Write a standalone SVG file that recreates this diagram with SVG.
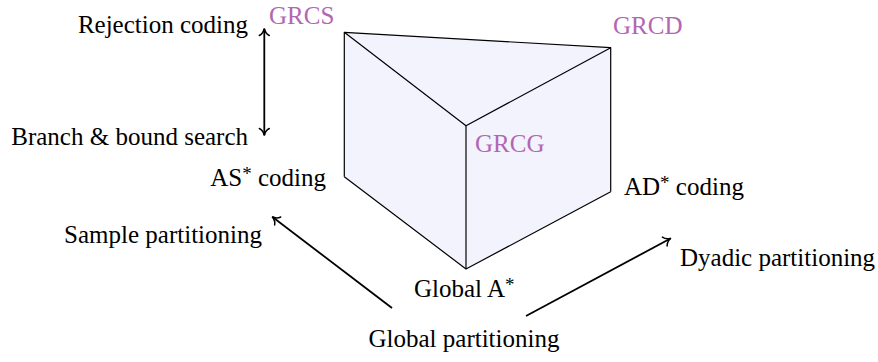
<svg xmlns="http://www.w3.org/2000/svg" width="878" height="362" viewBox="0 0 878 362">
<style>
text{font-size:25px;fill:#000}
.v{fill:#b366b3}
.edge{stroke:#000;stroke-width:1.2;fill:none;stroke-linejoin:round}
.arr{stroke:#000;stroke-width:1.8;fill:none;marker-end:url(#ah)}
.sup{font-size:19px}
</style>
<defs>
<marker id="ah" viewBox="-8 -6 10 12" markerWidth="10" markerHeight="12" refX="0" refY="0" orient="auto-start-reverse" markerUnits="userSpaceOnUse">
<path d="M-6.5,-5 C-5,-2 -2,-0.5 0.5,0 C-2,0.5 -5,2 -6.5,5" fill="none" stroke="#000" stroke-width="1.5" stroke-linecap="round"/>
</marker>
</defs>
<g id="prism">
<polygon points="344.3,32.3 610.7,47.7 610.7,191.7 466,269 344.3,176.7" fill="#f3f3fe" stroke="none"/>
<polyline class="edge" points="344.3,176.7 344.3,32.3 610.7,47.7 610.7,191.7"/>
<polyline class="edge" points="344.3,32.3 466,125.7 610.7,47.7"/>
<line class="edge" x1="466" y1="125.7" x2="466" y2="269"/>
<polyline class="edge" points="344.3,176.7 466,269 610.7,191.7"/>
</g>
<g font-family="Liberation Serif, Times New Roman, serif">
<g id="corner-labels">
<text id="grcs" class="v" x="269" y="24">GRCS</text>
<text id="grcd" class="v" x="613" y="34">GRCD</text>
<text id="grcg" class="v" x="475" y="152">GRCG</text>
<text id="as" x="326" y="186" text-anchor="end">AS<tspan class="sup" dy="-6">*</tspan><tspan dy="6"> coding</tspan></text>
<text id="ad" x="624" y="195">AD<tspan class="sup" dy="-6">*</tspan><tspan dy="6"> coding</tspan></text>
<text id="ga" x="414" y="297">Global A<tspan class="sup" dy="-6">*</tspan></text>
</g>
<g id="axis-labels">
<text id="rej" x="248" y="33" text-anchor="end">Rejection coding</text>
<text id="bb" x="248" y="145" text-anchor="end">Branch &amp; bound search</text>
<text id="sp" x="262" y="243" text-anchor="end">Sample partitioning</text>
<text id="dp" x="680" y="266">Dyadic partitioning</text>
<text id="gp" x="464" y="347" text-anchor="middle">Global partitioning</text>
</g>
</g>
<g id="connectors">
<line class="arr" x1="264.3" y1="29" x2="264.3" y2="135" style="marker-start:url(#ah)"/>
<line class="arr" x1="392" y1="308" x2="272.5" y2="217"/>
<line class="arr" x1="526" y1="316" x2="670.5" y2="238.5"/>
</g>
</svg>
